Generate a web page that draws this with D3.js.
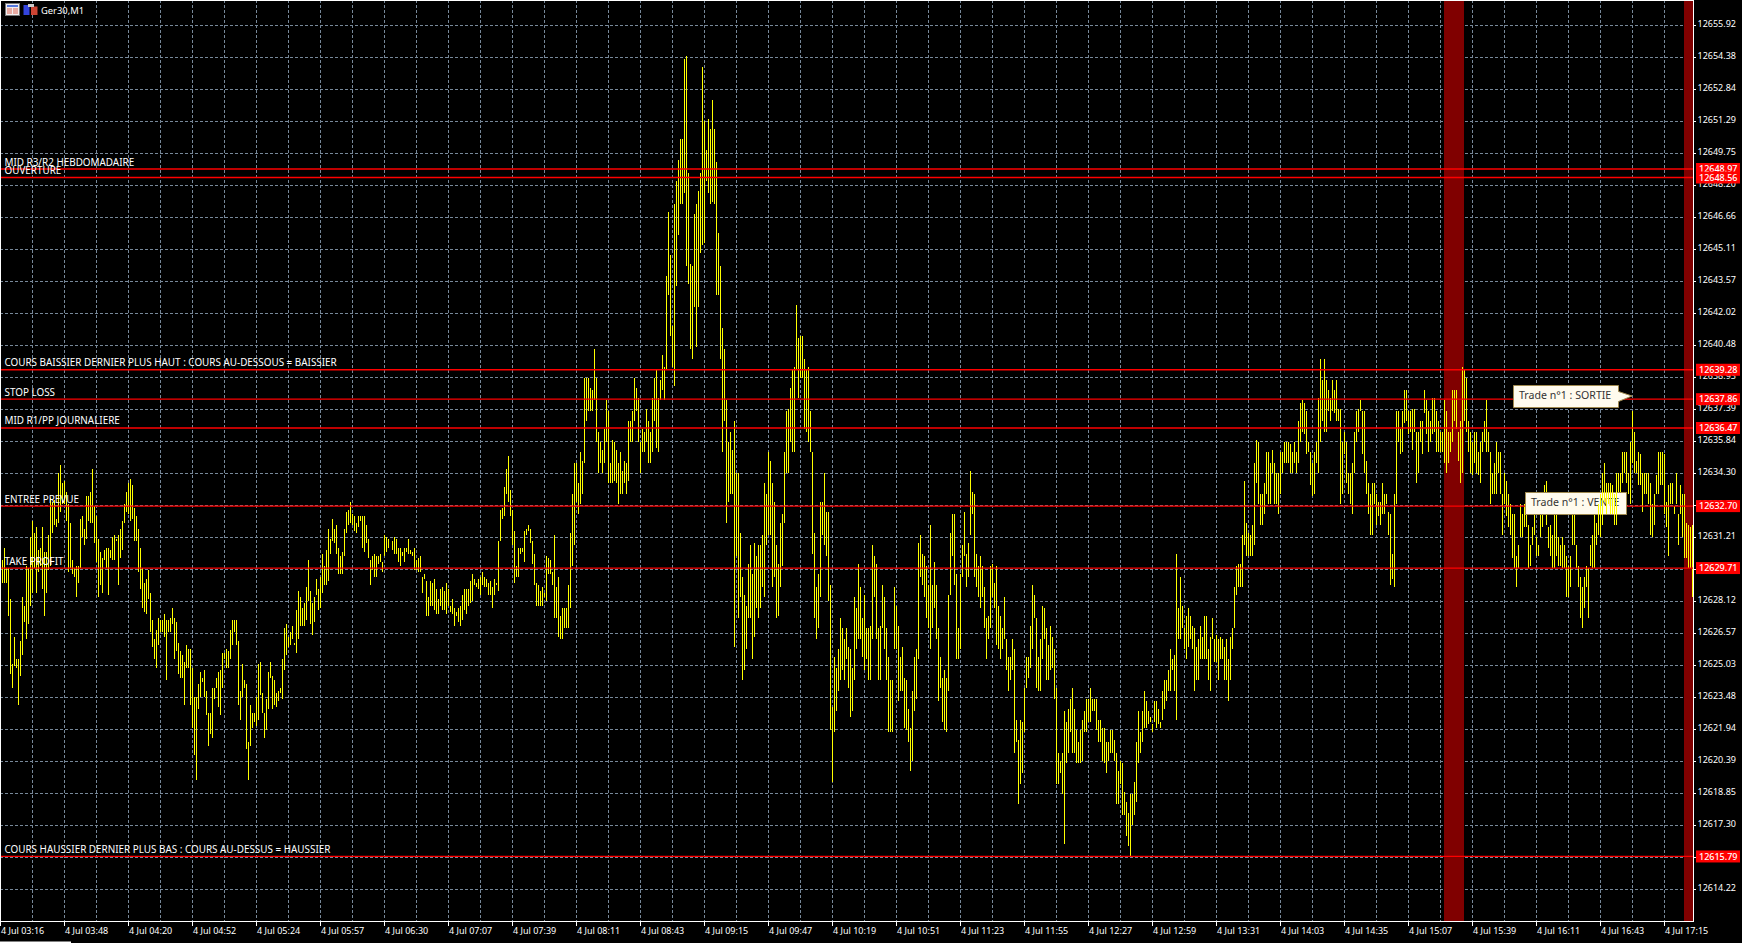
<!DOCTYPE html>
<html><head><meta charset="utf-8">
<script src="https://d3js.org/d3.v7.min.js"></script>
<style>html,body{margin:0;padding:0;background:#000;overflow:hidden}svg{display:block}text{font-family:"Noto Sans",sans-serif}</style>
</head><body><svg id="c" width="1742" height="943"></svg>
<script>
const priceBase = 12600;
const highs = [
30.1,30.7,29.7,29.7,28.2,25.1,26.4,25.3,25.3,26.2,28.3,27.9,29.8,29.7,31.2,32.0,31.4,31.7,30.6,30.7,31.7,30.5,30.5,31.3,33.1,32.9,33.0,32.1,34.3,34.7,33.8,33.9,33.4,32.8,31.9,30.1,29.7,29.8,29.8,32.1,32.2,31.6,33.2,33.2,33.4,34.5,32.7,32.2,31.1,30.5,30.2,30.6,30.7,30.7,30.6,31.2,31.3,31.1,31.3,31.6,32.0,32.8,33.4,33.8,34.0,33.7,32.6,32.2,31.6,30.7,29.7,29.0,29.2,29.6,28.5,27.2,26.3,26.7,27.3,27.2,27.2,27.5,27.2,27.2,27.3,27.8,27.3,27.1,26.1,25.7,25.5,25.2,26.0,25.8,25.8,24.9,23.5,23.5,24.1,24.7,24.4,24.8,23.8,22.7,22.7,23.9,23.9,24.4,24.7,24.8,25.6,25.6,25.8,25.7,26.7,27.2,27.2,27.2,26.2,23.8,
25.1,24.3,24.1,21.3,23.1,22.7,22.7,23.5,25.1,25.2,23.7,22.7,23.4,24.7,25.2,24.5,24.3,23.7,23.8,23.9,25.3,26.8,27.0,26.4,26.6,26.9,26.1,27.7,28.6,28.3,27.8,28.0,28.8,30.1,28.6,28.0,28.3,29.2,28.7,29.3,30.4,29.8,30.6,31.6,31.1,32.1,31.6,31.8,30.7,30.3,30.5,31.6,32.4,32.5,32.9,32.3,32.2,31.9,32.2,32.2,32.2,32.2,31.8,31.1,30.1,30.3,30.4,30.3,30.3,30.4,30.0,31.3,31.2,31.1,31.1,31.0,31.2,31.1,30.7,30.7,30.5,30.7,30.7,31.1,30.6,30.5,30.7,30.1,30.2,30.3,29.3,29.4,29.1,28.3,29.1,29.0,29.2,28.7,28.2,28.7,28.8,28.6,29.0,28.7,27.9,28.2,27.8,27.6,27.8,27.9,28.4,28.7,28.7,28.7,29.1,29.4,29.2,29.0,29.2,29.3,29.5,
29.3,29.2,29.0,29.1,28.8,29.2,29.0,31.0,32.5,32.6,33.6,34.5,35.1,33.5,32.5,31.5,29.8,30.7,30.7,30.7,31.5,31.6,31.8,31.6,31.0,30.4,29.0,28.9,28.6,28.8,28.5,30.3,30.2,30.1,29.5,31.3,28.8,29.3,27.4,27.8,27.8,27.8,28.9,31.4,33.3,34.8,34.8,33.8,35.3,34.9,38.9,38.9,38.9,38.4,38.3,40.3,38.9,36.3,35.8,35.4,36.4,37.8,37.3,34.8,35.9,35.8,35.4,34.8,35.3,34.4,34.9,34.8,36.8,36.8,37.3,38.9,38.4,37.9,35.8,36.4,36.3,37.4,36.8,36.3,37.9,38.9,39.3,37.9,38.8,40.0,39.4,
43.8,46.9,44.8,41.4,47.3,48.4,49.4,50.4,50.4,54.3,54.4,48.8,44.4,44.3,46.8,47.3,47.9,48.8,53.9,51.3,49.9,51.4,50.9,52.3,50.9,49.3,45.9,44.3,41.3,40.3,37.8,35.8,36.3,35.4,36.8,34.3,34.3,31.4,29.3,28.4,27.9,29.9,30.8,29.4,30.9,30.3,30.8,30.8,31.3,33.8,33.3,35.3,34.9,33.8,32.9,30.8,29.9,31.9,32.3,35.3,37.3,37.4,38.4,39.3,39.4,42.4,40.8,40.9,40.9,39.8,39.3,39.4,37.3,35.3,31.4,28.8,29.4,32.9,32.9,34.3,32.4,32.4,28.9,23.0,25.4,24.9,25.8,27.3,26.8,26.3,26.8,25.9,25.8,24.9,28.3,27.8,29.9,28.8,27.3,28.4,26.8,26.8,26.9,30.8,30.3,29.9,26.8,26.9,28.9,28.3,26.8,25.4,24.3,24.3,28.8,27.9,26.9,25.4,
25.9,24.4,24.3,22.9,22.0,23.8,25.4,25.8,30.9,31.3,30.4,30.3,29.8,28.9,31.8,28.9,30.0,28.9,26.8,25.4,24.4,24.8,24.4,28.4,31.4,32.3,32.3,29.4,26.8,29.4,30.8,32.4,30.4,30.9,34.4,33.4,33.3,30.4,29.8,30.3,29.8,28.8,27.3,27.4,29.8,29.9,29.0,29.8,27.9,27.4,26.8,28.3,26.3,25.4,25.4,26.3,25.8,22.4,21.4,22.4,22.3,23.9,25.4,25.4,26.9,28.9,28.4,27.3,25.4,26.3,27.9,27.8,26.8,26.0,26.9,26.4,25.8,23.9,20.8,20.4,20.8,22.8,22.3,22.9,23.4,23.9,22.9,21.9,21.3,21.9,22.4,22.8,23.4,23.4,23.9,23.4,23.4,23.4,22.4,22.4,22.0,22.0,21.3,21.3,21.9,21.9,21.4,20.8,19.9,20.4,20.3,18.9,18.4,17.9,18.8,18.8,19.4,21.3,22.8,21.8,22.8,
23.8,23.3,22.8,22.5,22.2,23.3,23.3,22.9,22.3,23.8,24.3,24.3,24.8,25.8,25.3,25.5,30.4,27.8,29.3,27.9,26.8,27.4,27.8,27.4,26.9,26.8,25.9,26.3,26.9,26.4,27.4,27.4,25.8,26.4,27.3,26.3,26.5,26.3,26.4,26.3,25.9,26.3,25.3,26.4,26.8,28.8,29.8,29.9,29.9,31.3,33.9,31.9,31.4,31.3,31.8,34.8,35.9,35.8,33.3,33.3,33.8,35.3,35.3,34.8,35.4,34.8,34.3,34.3,35.3,35.3,35.8,35.8,35.8,35.7,35.3,35.8,35.3,36.8,37.7,37.8,37.7,37.3,35.8,35.3,34.8,35.3,35.8,37.9,39.8,38.8,39.8,38.8,38.3,37.9,38.8,38.3,38.8,37.4,37.4,35.8,36.3,35.8,34.3,34.3,34.8,36.3,37.3,37.4,37.8,37.3,37.3,34.9,33.8,33.3,33.8,33.8,33.3,32.9,32.9,33.8,33.3,33.3,32.4,32.3,30.4,33.3,37.3,37.3,36.4,37.3,38.3,38.3,37.3,37.3,37.4,37.4,36.3,36.3,36.8,36.8,
38.3,37.8,37.3,36.8,37.9,37.9,37.3,36.8,36.3,36.3,37.8,37.3,36.3,36.3,38.3,38.3,38.3,36.3,36.8,39.4,39.3,38.9,36.8,36.3,35.8,36.3,36.3,35.3,35.8,36.3,36.8,37.8,36.3,35.3,34.3,34.8,35.8,35.3,35.3,33.3,34.3,33.9,33.3,32.8,32.3,32.3,30.3,30.8,32.8,32.3,32.8,32.9,31.8,30.8,31.7,33.3,31.2,30.8,32.9,33.3,33.7,33.9,31.7,31.8,31.3,32.3,32.3,31.2,30.8,31.2,30.8,30.3,29.8,30.3,32.3,32.3,30.8,29.8,29.3,28.8,29.3,29.8,29.7,30.8,31.3,32.3,31.9,32.8,33.3,34.3,34.8,33.8,33.8,33.8,33.7,33.3,34.3,34.3,34.3,35.3,35.3,35.3,34.3,35.8,37.3,36.3,34.9,35.3,35.2,34.3,34.3,34.3,34.3,33.8,32.8,33.3,34.2,35.3,35.3,35.3,35.2,32.9,33.7,33.8,33.8,32.7,34.3,32.3,33.7,33.3,33.3,31.9,31.8,31.7,31.8];
const lows = [
29.0,29.0,29.0,27.4,24.6,23.9,25.0,24.9,23.1,24.5,25.5,27.1,26.3,27.0,27.9,28.5,29.7,28.5,29.5,29.8,28.7,27.4,28.5,29.6,29.8,31.4,31.8,31.7,31.9,32.4,32.8,32.8,32.0,29.5,29.7,29.4,29.3,28.3,29.0,29.7,31.2,30.8,31.1,32.0,31.9,31.9,30.9,30.0,28.3,28.9,28.5,30.1,29.7,28.4,30.2,30.1,30.1,31.0,28.9,30.2,30.6,31.9,32.4,32.3,32.0,32.1,31.0,31.0,29.5,28.7,27.8,27.6,27.5,28.2,26.6,25.9,25.3,24.9,26.0,26.6,26.6,26.4,24.3,26.6,26.6,27.0,25.3,25.7,24.6,24.4,24.4,23.1,24.9,24.9,23.1,22.0,20.7,19.5,22.9,23.5,24.2,23.5,22.6,21.1,21.7,21.5,23.4,23.9,23.0,22.6,23.9,25.3,24.9,24.9,25.3,26.0,26.6,26.0,23.1,22.4,
23.5,23.9,21.0,19.5,21.1,22.0,22.3,22.1,22.4,23.6,22.7,21.5,21.9,22.9,24.4,22.9,23.1,23.0,23.3,23.7,23.4,24.8,25.5,25.9,26.0,26.3,26.0,25.6,26.3,26.9,26.9,26.9,27.2,28.1,27.0,26.5,27.1,28.4,27.7,27.8,28.5,28.9,28.9,29.1,30.4,31.0,30.9,30.4,29.4,29.4,29.4,30.3,31.4,31.8,31.9,31.8,31.5,31.4,31.7,32.0,30.7,30.5,30.9,30.2,28.9,29.6,29.3,29.3,29.9,30.0,29.5,30.3,30.5,30.7,31.1,30.6,30.4,30.4,30.0,29.8,30.3,30.0,30.5,30.4,30.4,30.3,29.6,29.6,29.5,29.5,28.5,29.2,27.4,27.4,27.9,27.9,27.7,27.5,27.5,27.9,27.7,27.7,27.5,27.9,27.6,27.5,26.9,27.4,27.1,26.9,27.2,27.7,27.5,27.9,28.0,28.1,28.9,28.8,28.7,28.4,28.9,
28.8,28.8,28.4,28.4,27.8,28.4,28.9,28.6,31.0,32.1,32.2,33.3,32.9,32.2,30.8,29.0,29.3,29.3,30.4,30.5,30.0,31.3,31.5,30.9,29.9,28.9,27.9,27.9,27.9,27.9,28.3,28.1,29.4,29.4,28.9,27.3,27.3,26.4,26.3,26.3,26.8,26.8,26.8,27.8,29.8,30.8,32.9,32.3,32.8,33.3,34.8,36.8,37.3,37.3,37.3,37.8,35.8,34.3,34.8,34.3,34.8,35.8,33.8,33.8,33.8,33.9,33.8,32.8,33.3,33.3,33.8,33.3,33.9,35.8,35.8,36.8,37.3,35.8,34.3,35.3,35.3,35.8,34.8,34.8,35.3,36.8,35.5,35.3,37.8,38.3,37.8,
39.3,42.9,40.9,39.4,38.5,43.3,45.8,47.3,47.3,47.8,44.3,43.4,40.3,39.8,42.3,40.4,42.3,44.9,45.3,45.4,48.4,47.8,47.3,47.4,47.3,42.9,42.9,39.8,35.3,36.8,31.9,32.9,33.3,33.3,25.9,30.3,27.3,28.3,24.3,24.8,25.8,27.3,27.3,25.3,26.4,27.8,27.3,27.8,28.8,28.3,30.8,31.3,31.3,28.8,29.3,27.3,27.4,28.8,29.8,31.9,34.3,34.3,35.8,35.3,35.3,39.3,37.9,38.9,38.9,36.4,36.3,35.8,35.3,30.4,27.3,26.3,26.8,28.3,31.3,30.8,30.3,28.1,21.9,19.4,21.8,22.8,23.8,24.3,24.8,24.3,25.3,23.9,22.5,22.8,24.3,25.8,26.3,26.3,25.4,24.8,25.3,24.3,24.3,26.3,28.3,26.3,24.3,24.3,26.8,25.8,24.3,21.8,21.8,21.8,25.8,25.8,23.3,23.8,
23.8,22.0,21.9,21.3,19.9,20.4,22.8,23.4,25.3,29.3,28.9,28.3,27.3,26.8,25.8,26.8,27.8,26.3,23.3,23.9,22.3,21.9,21.8,23.8,28.4,30.3,28.9,25.3,25.3,25.8,29.3,30.3,28.8,29.3,31.3,32.3,29.3,28.8,28.3,27.8,28.3,26.8,25.3,26.3,26.8,28.3,27.8,26.0,25.8,25.3,25.8,26.3,24.8,23.8,24.3,24.8,20.8,21.3,18.3,19.3,19.8,21.8,23.9,24.4,24.9,25.8,27.3,23.9,23.8,23.8,25.3,26.3,24.3,24.3,24.8,24.9,23.4,19.3,19.3,19.8,18.8,16.4,20.3,20.8,21.8,20.8,20.8,20.3,20.3,20.3,20.4,21.8,21.8,22.3,22.3,22.8,22.8,21.9,21.3,21.3,20.4,20.3,19.8,20.4,20.8,20.8,20.4,18.3,18.3,19.3,17.8,17.8,16.8,16.3,15.8,17.3,17.8,18.4,20.3,20.8,21.3,
22.0,22.0,22.2,22.3,21.8,22.3,22.0,22.2,22.0,22.4,22.9,23.3,23.8,23.8,24.8,23.8,22.4,26.3,26.3,26.8,25.8,25.3,25.9,26.3,25.8,23.8,24.3,24.3,25.3,25.3,25.3,25.3,24.3,23.8,26.3,25.2,25.2,24.3,25.3,25.3,24.3,24.3,23.3,24.3,25.8,26.8,28.4,28.8,28.8,28.8,30.8,30.3,30.3,30.3,30.3,30.8,33.8,32.8,31.8,31.8,32.3,33.3,32.8,32.8,34.3,32.8,32.8,32.3,33.3,34.3,34.8,34.8,34.8,34.3,34.3,34.8,34.3,34.8,35.8,36.3,36.2,35.2,35.3,33.7,33.2,33.3,34.8,34.3,35.8,36.8,36.3,36.3,37.3,36.8,37.3,37.2,36.8,36.8,32.8,33.3,35.2,33.8,33.3,32.8,32.3,34.3,35.8,36.3,37.3,35.2,34.3,33.3,32.3,31.3,31.3,32.8,31.8,32.2,31.8,32.3,32.3,32.8,31.3,28.9,29.2,28.8,32.8,35.8,35.2,35.3,36.7,36.8,36.2,36.3,35.4,36.3,33.8,34.3,35.8,35.2,
37.2,36.2,35.3,35.8,36.2,36.3,35.3,35.3,35.3,35.3,34.8,34.3,34.8,35.3,35.8,36.8,36.4,34.9,33.8,34.3,36.8,36.3,35.3,34.3,34.2,34.8,34.3,34.2,33.8,35.3,35.8,35.3,35.3,32.8,33.3,33.3,33.3,34.3,33.3,31.3,32.8,32.2,31.7,31.3,30.2,29.7,28.8,29.7,31.2,31.2,31.7,31.7,29.7,29.8,30.8,31.3,30.3,30.3,31.2,31.7,32.3,31.8,30.7,30.3,29.7,29.7,30.3,29.8,29.8,29.7,29.7,28.3,28.3,28.8,30.8,30.8,29.7,28.8,27.3,26.8,27.8,28.8,27.3,29.8,29.7,29.7,30.8,31.3,31.2,31.8,32.9,32.3,32.8,32.3,32.3,31.8,31.8,32.8,33.3,33.8,34.3,33.8,33.3,32.8,34.8,34.3,34.3,33.7,33.7,32.4,33.3,33.3,32.8,31.3,31.2,31.8,33.3,33.3,33.7,33.7,32.3,31.7,30.3,32.8,32.8,32.3,32.8,30.8,32.3,31.2,30.2,30.2,29.7,29.7,28.3];
const priceTicks = [12655.92,12654.38,12652.84,12651.29,12649.75,12648.20,12646.66,12645.11,12643.57,12642.02,12640.48,12638.93,12637.39,12635.84,12634.30,12632.75,12631.21,12629.66,12628.12,12626.57,12625.03,12623.48,12621.94,12620.39,12618.85,12617.30,12615.76,12614.22];
const timeTicks = ["03:16","03:48","04:20","04:52","05:24","05:57","06:30","07:07","07:39","08:11","08:43","09:15","09:47","10:19","10:51","11:23","11:55","12:27","12:59","13:31","14:03","14:35","15:07","15:39","16:11","16:43","17:15"];
const levelPrices = [12648.97,12648.56,12639.28,12637.86,12636.47,12632.70,12629.71,12615.79];
const levelNames = ["MID R3/R2 HEBDOMADAIRE","OUVERTURE","COURS BAISSIER DERNIER PLUS HAUT : COURS AU-DESSOUS = BAISSIER","STOP LOSS","MID R1/PP JOURNALIERE","ENTREE PREVUE","TAKE PROFIT","COURS HAUSSIER DERNIER PLUS BAS : COURS AU-DESSUS = HAUSSIER"];
const bandStarts = [722,842];
const bandEnds = [732,846.5];
if (highs.length!==846||lows.length!==846) throw new Error("len "+highs.length+" "+lows.length);

const svg = d3.select("#c");
const W = 1742, right = 1693, bottom = 921;
const x = d3.scaleLinear().domain([1,846]).range([2,1692]);
const y = d3.scaleLinear().domain([priceTicks[0],priceTicks[27]]).range([25,889]);
const barIdx = d3.range(1,847);
const px = v => Math.round(v)+0.5;

svg.append("rect").attr("width",W).attr("height",943).attr("fill","#000");

// grid
const gridX = d3.range(0,53).map(i=>i*16+1);
const g = svg.append("g").attr("stroke","#778899").attr("stroke-dasharray","3 2").attr("stroke-width",1).attr("shape-rendering","crispEdges");
g.selectAll(".h").data(priceTicks).join("line").attr("x1",0).attr("x2",right).attr("y1",d=>px(y(d))).attr("y2",d=>px(y(d)));
g.selectAll(".v").data(gridX).join("line").attr("x1",d=>px(x(d)-2)).attr("x2",d=>px(x(d)-2)).attr("y1",0).attr("y2",bottom);

// bands
svg.append("g").selectAll("rect").data(bandStarts).join("rect")
  .attr("x",d=>x(d)).attr("width",(d,i)=>x(bandEnds[i])-x(d)).attr("y",0).attr("height",bottom).attr("fill","#800000");

// bars
function drawBars(sel){
  sel.attr("x1",d=>x(d)+0.5).attr("x2",d=>x(d)+0.5)
     .attr("y1",d=>y(priceBase+highs[d-1])).attr("y2",d=>y(priceBase+lows[d-1]))
     .attr("stroke","#ffff00").attr("stroke-width",1).attr("shape-rendering","crispEdges");
}
svg.append("g").selectAll("line").data(barIdx).join("line").call(drawBars);

// level lines
svg.append("g").selectAll("line").data(levelPrices).join("line")
  .attr("x1",0).attr("x2",right).attr("y1",d=>y(d)).attr("y2",d=>y(d))
  .attr("stroke","#ff0000").attr("stroke-width",1.3);

// callouts
const calloutText = ["Trade n°1 : SORTIE","Trade n°1 : VENTE"];
const box = svg.append("g");
box.append("path").attr("d","M1513.5 385.5H1618.5V391.5L1632 396L1618.5 401.5V407.5H1513.5Z").attr("fill","#fffbee").attr("stroke","#a08a50");
box.append("rect").attr("x",1525.5).attr("y",492.5).attr("width",101).attr("height",22).attr("fill","#fffbee").attr("stroke","#a08a50");
box.append("text").attr("x",1519).attr("y",399).attr("font-size",10.6).attr("fill","#333").text(calloutText[0]);
box.append("text").attr("x",1531).attr("y",506).attr("font-size",10.6).attr("fill","#333").text(calloutText[1]);
// bars that stay in front of the VENTE box
svg.append("g").selectAll("line").data(barIdx.filter(d=>d>=799&&d<=808)).join("line").call(drawBars);

// axes frame
const fr = svg.append("g").attr("stroke","#fff").attr("stroke-width",1);
fr.append("line").attr("x1",right+.5).attr("x2",right+.5).attr("y1",0).attr("y2",bottom+1);
fr.append("line").attr("x1",0).attr("x2",right).attr("y1",bottom+.5).attr("y2",bottom+.5);
fr.append("line").attr("x1",0).attr("x2",right).attr("y1",.5).attr("y2",.5);
fr.append("line").attr("x1",.5).attr("x2",.5).attr("y1",0).attr("y2",bottom);

// right axis
const ya = svg.append("g").attr("transform",`translate(${right},0)`);
ya.selectAll("line").data(priceTicks).join("line").attr("x1",0).attr("x2",3).attr("y1",d=>px(y(d))).attr("y2",d=>px(y(d))).attr("stroke","#fff");
ya.selectAll("text").data(priceTicks).join("text").attr("x",4.5).attr("y",d=>y(d)+2.2).attr("fill","#fff").attr("font-size",9).text(d=>d.toFixed(2));

// bottom axis
const xa = svg.append("g");
const tickBars = timeTicks.map((t,i)=>i*32+1);
xa.selectAll("line").data(tickBars).join("line").attr("x1",d=>px(x(d)-2)).attr("x2",d=>px(x(d)-2)).attr("y1",bottom).attr("y2",bottom+5).attr("stroke","#fff");
xa.selectAll("text").data(timeTicks).join("text").attr("x",(d,i)=>x(tickBars[i])-2+1).attr("y",934).attr("fill","#fff").attr("font-size",9).text(d=>"4 Jul "+d);

// price tags: each tag covers the previous one
const tag = svg.append("g").selectAll("g").data(levelPrices).join("g");
tag.append("rect").attr("x",1696).attr("width",44).attr("y",d=>y(d)-6).attr("height",12).attr("fill","#ff0000");
tag.append("text").attr("x",1699).attr("y",d=>y(d)+3.2).attr("fill","#fff").attr("font-size",9).attr("font-weight",500).text(d=>d.toFixed(2));

// level names
svg.append("g").selectAll("text").data(levelNames).join("text")
  .attr("x",4.5).attr("y",(d,i)=>y(levelPrices[i])-3.5).attr("fill","#fff").attr("font-size",9.9).text(d=>d);

// header
const h = svg.append("g");
h.append("rect").attr("x",5.5).attr("y",3.5).attr("width",14).attr("height",12).attr("fill","#f2eef0").attr("stroke","#777");
h.append("rect").attr("x",7).attr("y",5).attr("width",11).attr("height",2).attr("fill","#5577dd");
[8.5,10.5,12.5].forEach(v=>{h.append("rect").attr("x",7).attr("y",v).attr("width",5).attr("height",1).attr("fill","#dd6655");h.append("rect").attr("x",13).attr("y",v).attr("width",5).attr("height",1).attr("fill","#dd6655");});
h.append("rect").attr("x",23.5).attr("y",5).attr("width",6).attr("height",10).attr("fill","#3344dd");
h.append("rect").attr("x",31).attr("y",6.5).attr("width",6.5).attr("height",8.5).attr("fill","#cc4433");
h.append("rect").attr("x",28).attr("y",4).attr("width",6).attr("height",3).attr("fill","#ccc");
h.append("text").attr("x",41).attr("y",13.5).attr("fill","#fff").attr("font-size",9.4).text("Ger30,M1");

// bottom-left scroll tab
svg.append("rect").attr("x",0).attr("y",941.5).attr("width",71).attr("height",1.5).attr("fill","#fff");
</script></body></html>
